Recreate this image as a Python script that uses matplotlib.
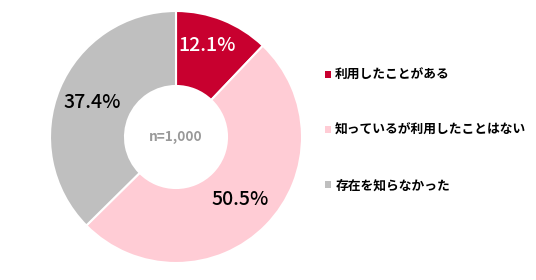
import numpy as np
import matplotlib.pyplot as plt
from matplotlib.patches import Patch

plt.rcParams['font.family'] = ['Noto Sans CJK JP', 'DejaVu Sans']

labels = ['利用したことがある', '知っているが利用したことはない', '存在を知らなかった']
values = [12.1, 50.5, 37.4]
colors = ['#C8002F', '#FFCCD5', '#BFBFBF']
text_colors = ['white', 'black', 'black']
sample_label = 'n=1,000'

fig = plt.figure(figsize=(5.36, 2.8), dpi=100)
# pie centre ~ (176,137) px, outer radius ~126 px
ax = fig.add_axes([(176 - 126) / 536, (143 - 126) / 280, 252 / 536, 252 / 280])

wedges, _ = ax.pie(values, colors=colors, startangle=90, counterclock=False,
                   radius=1.0, wedgeprops=dict(width=1 - 51 / 126, edgecolor='white', linewidth=1.5))
ax.set_xlim(-1, 1)
ax.set_ylim(-1, 1)
ax.set_aspect('equal')
ax.axis('off')

label_r = [0.78, 0.71, 0.72]
label_dx = [-0.04, 0, 0]
for w, v, tc, r, dx in zip(wedges, values, text_colors, label_r, label_dx):
    ang = np.deg2rad((w.theta1 + w.theta2) / 2)
    ax.text(r * np.cos(ang) + dx, r * np.sin(ang), '{:.1f}%'.format(v), ha='center', va='center',
            fontsize=14, color=tc, fontweight='medium')

ax.text(0, 0, sample_label, ha='center', va='center', fontsize=9.8, color='#999999', fontweight='bold')

handles = [Patch(facecolor=c, edgecolor='none') for c in colors]
fig.legend(handles, labels, loc='upper left', bbox_to_anchor=(325 / 536, 1 - 69 / 280),
           frameon=False, handlelength=0.45, handleheight=0.45,
           handletextpad=0.35, labelspacing=3.3, borderaxespad=0, borderpad=0,
           prop=dict(family=['Noto Sans CJK JP', 'DejaVu Sans'], weight='bold', size=9.2))

fig.savefig('out.png', dpi=100)
